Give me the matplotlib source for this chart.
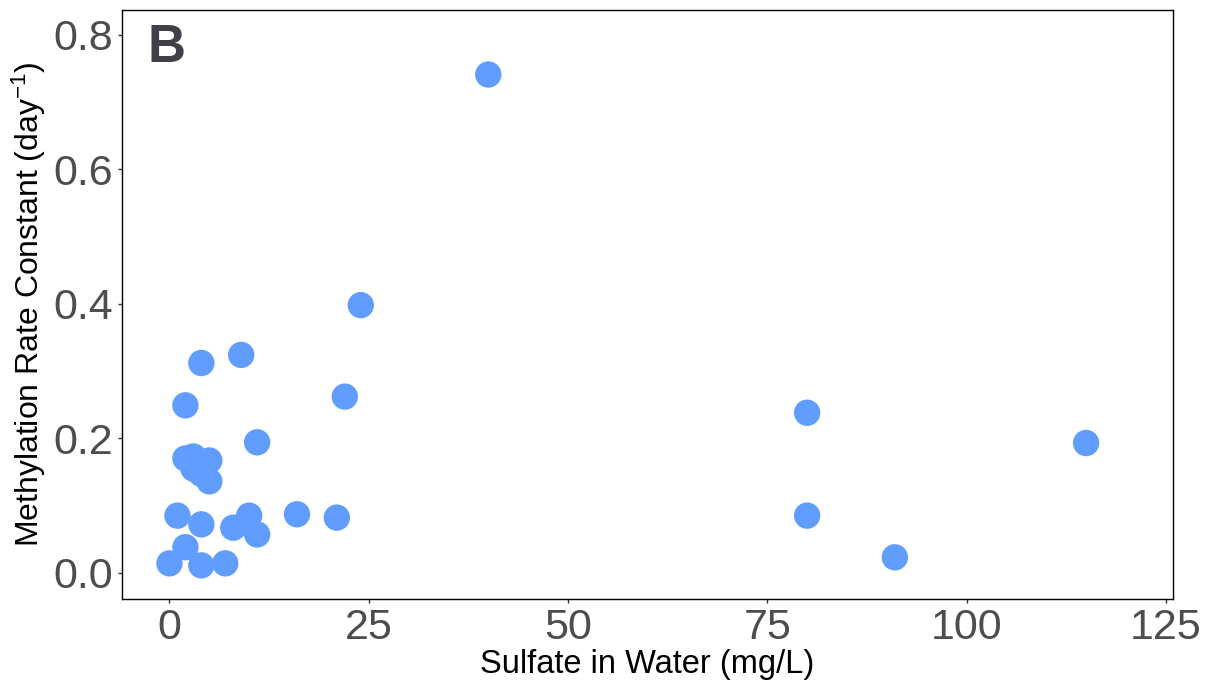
"""Scatter of methylation rate constant against sulfate in water"""

import matplotlib
matplotlib.use("Agg")
import matplotlib.pyplot as plt

plt.rcParams["font.family"] = ["Liberation Sans", "DejaVu Sans"]
plt.rcParams["mathtext.fontset"] = "custom"
plt.rcParams["mathtext.rm"] = "Liberation Sans"
plt.rcParams["mathtext.it"] = "Liberation Sans:italic"

# sulfate (mg/L) and methylation rate constant (1/day)
sulfate = [40, 24, 9, 4, 2, 22, 11, 80, 115, 80, 91,
           2, 3, 5, 3, 4, 5,
           1, 4, 8, 10, 11, 16, 21,
           2, 0, 4, 7]
rate_k = [0.741, 0.398, 0.324, 0.312, 0.249, 0.262, 0.194, 0.238, 0.193, 0.085, 0.023,
          0.170, 0.173, 0.167, 0.155, 0.147, 0.136,
          0.085, 0.072, 0.067, 0.085, 0.057, 0.087, 0.082,
          0.038, 0.014, 0.011, 0.014]

x_ticks = [0, 25, 50, 75, 100, 125]
y_ticks = [0.0, 0.2, 0.4, 0.6, 0.8]

fig = plt.figure(figsize=(12.12, 6.83), dpi=100)
ax = fig.add_axes([0.1007, 0.1230, 0.8671, 0.8624])

ax.scatter(sulfate, rate_k, s=360, color="#619CFF", edgecolors="none", zorder=3)

ax.set_xlim(-5.95, 125.9)
ax.set_ylim(-0.039, 0.837)
ax.set_xticks(x_ticks)
ax.set_xticklabels([str(t) for t in x_ticks])
ax.set_yticks(y_ticks)
ax.set_yticklabels([f"{t:.1f}" for t in y_ticks])

ax.tick_params(axis="both", labelsize=31, labelcolor="#4D4D4D", color="#333333",
               length=3, width=1.0, direction="out", pad=3.5)
for side in ax.spines.values():
    side.set_color("black")
    side.set_linewidth(1.0)

ax.set_xlabel("Sulfate in Water (mg/L)", fontsize=23.5, color="black", labelpad=1)
ax.set_ylabel("Methylation Rate Constant (day$^{-1}$)",
              fontsize=23, color="black", labelpad=4)

ax.text(0.024, 0.935, "B", transform=ax.transAxes, fontsize=38, fontweight="bold",
        color="#404048", ha="left", va="center")

fig.savefig("out.png", dpi=100)
